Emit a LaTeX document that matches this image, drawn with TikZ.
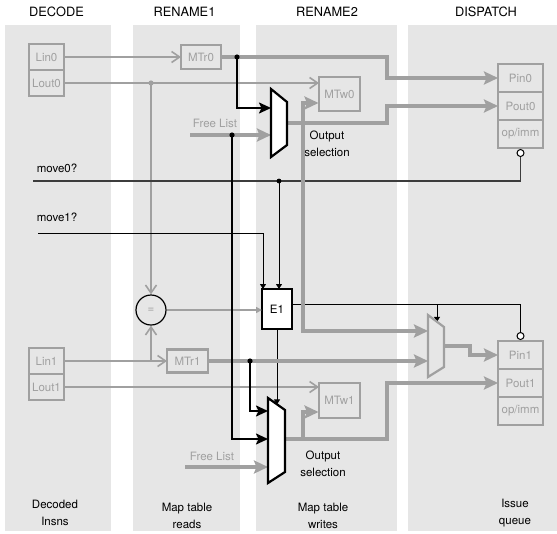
\documentclass[tikz,border=0pt]{standalone}
\usepackage{fontspec}
\setmainfont{TeX Gyre Heros}
\usetikzlibrary{calc}
\usetikzlibrary{positioning, arrows.meta}

\definecolor{panelgray}{HTML}{E6E6E6}
\definecolor{wiregray}{HTML}{A0A0A0}
\definecolor{darkwire}{HTML}{3C3C3C}

\begin{document}
\begin{tikzpicture}[x=1pt, y=-1pt,
    every node/.style={font=\fontsize{11.5}{17}\selectfont},
    stagehead/.style={font=\fontsize{12.8}{15}\selectfont},
    regbox/.style={draw=wiregray, line width=2.2pt, text=wiregray, fill=panelgray,
        minimum width=35pt, minimum height=26pt, inner sep=0pt, outer sep=0pt},
    qbox/.style={regbox, minimum width=45pt, minimum height=28pt},
    bubble/.style={circle, draw=black, fill=white, line width=1pt, minimum size=7pt, inner sep=0pt},
    thinwire/.style={draw=wiregray, line width=1.6pt},
    fatwire/.style={draw=wiregray, line width=3.2pt},
    ctlwire/.style={draw=black, line width=2pt},
    sigwire/.style={draw=black, line width=1pt},
    openhead/.style={-{Straight Barb[length=8pt,width=11pt]}},
    fathead/.style={-{Stealth[length=14pt,width=13pt,inset=2.5pt]}},
    ctlhead/.style={-{Stealth[length=12pt,width=11pt,inset=2.5pt]}},
    sighead/.style={-{Triangle[length=5pt,width=6pt]}},
    muxline/.style={draw=black, line width=2.2pt, fill=white, line join=miter}
]
    \useasboundingbox (0,0) rectangle (557,533);

    % pipeline stages
    \fill[panelgray] (5,25) rectangle (111,531);
    \fill[panelgray] (133,25) rectangle (240,531);
    \fill[panelgray] (256,25) rectangle (397,531);
    \fill[panelgray] (408,25) rectangle (557,531);

    \node[stagehead] (hdecode) at (56.5,12) {DECODE};
    \node[stagehead] (hren1) at (184.5,12) {RENAME1};
    \node[stagehead] (hren2) at (327,12) {RENAME2};
    \node[stagehead] (hdisp) at (486,12) {DISPATCH};

    % decoded instructions
    \node[regbox] (lin0) at (46.5,57) {Lin0};
    \node[regbox, below=0pt of lin0] (lout0) {Lout0};
    \node[regbox] (lin1) at (46.5,361) {Lin1};
    \node[regbox, below=0pt of lin1] (lout1) {Lout1};

    % map table ports
    \node[regbox, minimum width=40pt, minimum height=24pt] (mtr0) at (201,57) {MTr0};
    \node[regbox, minimum width=41pt, minimum height=23pt] (mtr1) at (187.5,361) {MTr1};
    \node[regbox, minimum width=41pt, minimum height=34pt] (mtw0) at (339.5,94) {MTw0};
    \node[regbox, minimum width=41pt, minimum height=35pt] (mtw1) at (339.5,400.5) {MTw1};

    % issue queue entries
    \node[qbox] (pin0) at (520.5,78) {Pin0};
    \node[qbox, below=0pt of pin0] (pout0) {Pout0};
    \node[qbox, below=0pt of pout0] (opimm0) {op/imm};
    \node[qbox] (pin1) at (520.5,355) {Pin1};
    \node[qbox, below=0pt of pin1] (pout1) {Pout1};
    \node[qbox, below=0pt of pout1] (opimm1) {op/imm};

    \node[circle, draw=black, line width=1.2pt, minimum size=30pt, inner sep=0pt,
        text=wiregray, fill=panelgray] (eq) at (151,310) {=};
    \node[draw=black, line width=2.5pt, fill=white, minimum width=30pt, minimum height=40pt,
        inner sep=0pt, outer sep=0pt] (e1) at (277,309) {E1};
    \node[bubble] (bub0) at (520.5,153) {};
    \node[bubble] (bub1) at (520.5,336) {};

    \node[text=wiregray] (free0) at (215,123) {Free List};
    \node[text=wiregray] (free1) at (212,456) {Free List};
    \node (move0lbl) at (57,168) {move0?};
    \node (move1lbl) at (57,217) {move1?};

    \node[align=center] (outsel0) at (327,144) {Output\\selection};
    \node[align=center] (outsel1) at (323,464) {Output\\selection};
    \node[align=center] (ldecode) at (55,513) {Decoded\\Insns};
    \node[align=center] (lreads) at (187,516) {Map table\\reads};
    \node[align=center] (lwrites) at (323,516) {Map table\\writes};
    \node[align=center] (lqueue) at (515,513) {Issue\\queue};

    % mux ports
    \coordinate (mux0a) at (271,108);
    \coordinate (mux0b) at (271,135);
    \coordinate (mux0out) at (287,123);
    \coordinate (mux1a) at (268,411);
    \coordinate (mux1b) at (268,439);
    \coordinate (mux1c) at (268,467);
    \coordinate (mux1out) at (285,439);
    \coordinate (mux1sel) at (277,404.4);
    \coordinate (mux2a) at (428,331);
    \coordinate (mux2b) at (428,361);
    \coordinate (mux2out) at (444,346);
    \coordinate (mux2sel) at (437,321.8);

    \coordinate (jog) at (387,0);
    \coordinate (jog2) at (470,0);
    \coordinate (free0in) at (190,135);
    \coordinate (free1in) at (185,467);
    \coordinate (mtw0b) at (318.5,103);
    \coordinate (mtw1b) at (318.5,412);
    \coordinate (move0) at (33,181);
    \coordinate (move1) at (38,233);
    \coordinate (move1bend) at (263,233);

    % register names
    \draw[thinwire, openhead] (lin0.east) -- (mtr0.west);
    \draw[thinwire, openhead] (lout0.east) -- (lout0.east -| mtw0.west);
    \draw[thinwire, openhead] (lin1.east) -- (mtr1.west);
    \draw[thinwire, openhead] (lout1.east) -- (lout1.east -| mtw1.west);
    \coordinate (eqtap) at (lout0.east -| eq.north);
    \coordinate (lin1tap) at (lin1.east -| eq.south);
    \draw[thinwire, openhead] (eqtap) -- (eq.north);
    \draw[thinwire, openhead] (lin1tap) -- (eq.south);
    \fill[wiregray] (eqtap) circle (2.6pt);
    \draw[thinwire, -{Triangle[length=6pt,width=6pt]}] (eq.east) -- (eq.east -| e1.west);

    % control signals
    \draw[darkwire, line width=1.6pt] (bub0.south) |- (move0);
    \coordinate (move0tap) at (279,181);
    \fill (move0tap) circle (2.4pt);
    \draw[sigwire, sighead] (move0tap) -- (move0tap |- e1.north);
    \draw[sigwire, sighead] (move1) -- (move1bend) -- (move1bend |- e1.north);
    \draw[sigwire, sighead] (e1.south) -- (mux1sel);
    \coordinate (e1r) at ($(e1.east)+(0,-5)$);
    \draw[sigwire] (e1r) -| (bub1.north);
    \coordinate (sel2tap) at (e1r -| mux2sel);
    \draw[sigwire, sighead] (sel2tap) -- (mux2sel);

    % physical registers
    \draw[fatwire, fathead] (mtr0.east) -- (mtr0.east -| jog) |- (pin0.west);
    \draw[fatwire, fathead] (free0in) -- (mux0b);
    \draw[fatwire, fathead] (mux0out) -- (mux0out -| jog) |- (pout0.west);
    \coordinate (sel0tap) at (303,123);
    \draw[fatwire, fathead] (sel0tap) |- (mtw0b);
    \draw[fatwire, fathead] (sel0tap) |- (mux2a);
    \fill[wiregray] (sel0tap) circle (2.6pt);
    \draw[fatwire, fathead] (mtr1.east) -- (mux2b);
    \draw[fatwire, fathead] (free1in) -- (mux1c);
    \draw[fatwire, fathead] (mux1out) -- (mux1out -| jog) |- (pout1.west);
    \coordinate (sel1tap) at (303,439);
    \draw[fatwire, fathead] (sel1tap) |- (mtw1b);
    \draw[fatwire, fathead] (mux2out) -- (mux2out -| jog2) |- (pin1.west);

    % bypass paths
    \coordinate (mtr0tap) at (237,57);
    \draw[ctlwire, ctlhead] (mtr0tap) |- (mux0a);
    \fill (mtr0tap) circle (2.6pt);
    \coordinate (free0tap) at (232,135);
    \draw[ctlwire, ctlhead] (free0tap) |- (mux1b);
    \fill (free0tap) circle (2.6pt);
    \coordinate (mtr1tap) at (250,361);
    \draw[ctlwire, ctlhead] (mtr1tap) |- (mux1a);
    \fill (mtr1tap) circle (2.6pt);

    % muxes
    \draw[muxline] (271,89) -- (287,102) -- (287,145) -- (271,157) -- cycle;
    \draw[muxline] (268,398) -- (285,410) -- (285,472) -- (268,483) -- cycle;
    \draw[muxline, draw=wiregray, fill=panelgray] (428,315) -- (444,327) -- (444,367) -- (428,377) -- cycle;
\end{tikzpicture}
\end{document}
